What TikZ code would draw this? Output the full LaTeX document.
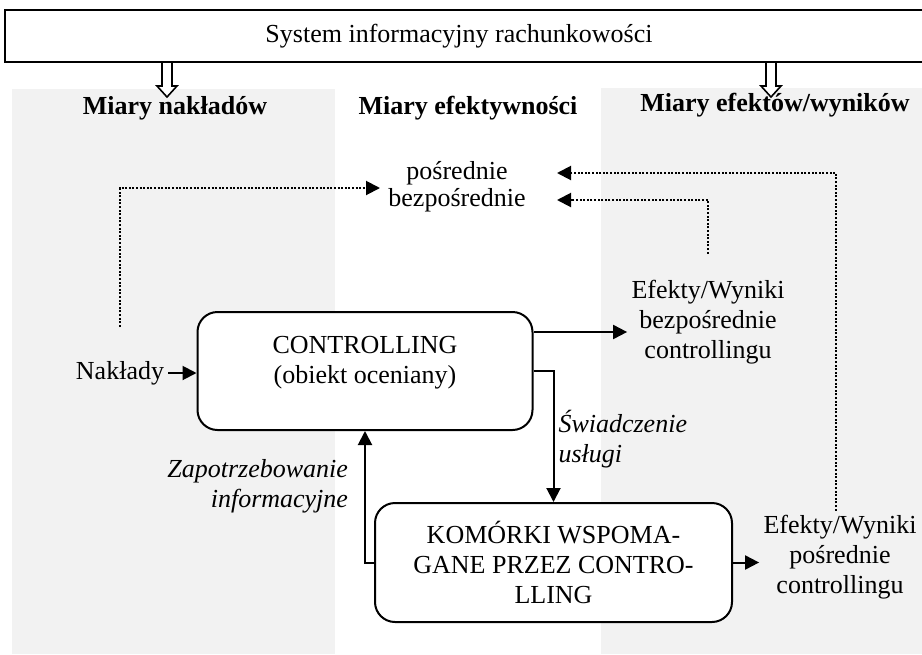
\documentclass[tikz,border=0pt]{standalone}
\usepackage{fontspec}
\setmainfont{Liberation Serif}
\usetikzlibrary{arrows.meta}
\definecolor{panel}{HTML}{F2F2F2}
\begin{document}
\begin{tikzpicture}[x=0.5pt,y=-0.5pt,>={Triangle[length=7pt,width=7pt]},
	font=\fontsize{13}{15}\selectfont,
	txt/.style={align=center,inner sep=2pt},
	head/.style={font=\fontsize{13}{15}\selectfont\bfseries},
	lbl/.style={font=\fontsize{13}{15}\selectfont\itshape,inner sep=2pt},
	rbox/.style={draw,fill=white,line width=1pt,rounded corners=10pt,align=center},
	flow/.style={->,line width=1pt},
	link/.style={->,line width=1pt,dash pattern=on 1pt off 0.8pt}]
	\useasboundingbox (0,0) rectangle (922,654);
	\fill[panel] (12,89) rectangle (335,654);
	\fill[panel] (601,88) rectangle (922,654);
	\foreach \x in {167,771}
		\draw[line width=0.8pt,fill=white] ({\x-5},62)--({\x-5},86)--({\x-10},86)--(\x,97)--({\x+10},86)--({\x+5},86)--({\x+5},62);
	\draw[line width=1pt] (5,10) rectangle (940,62);
	\node[txt] (sys) at (459,36) {System informacyjny rachunkowości};
	\node[head] (hin) at (175,108) {Miary nakładów};
	\node[head] (heff) at (468,108) {Miary efektywności};
	\node[head] (hout) at (775,105) {Miary efektów/wyników};
	\node[txt] (posr) at (457,173) {pośrednie};
	\node[txt] (bezp) at (457,200) {bezpośrednie};
	\node[rbox,minimum width=167.5pt,minimum height=59pt] (ctl) at (365,371) {CONTROLLING\\(obiekt oceniany)\\[-4pt]\mbox{}};
	\node[rbox,minimum width=178.5pt,minimum height=59.5pt] (kom) at (553.5,562.5) {KOMÓRKI WSPOMA-\\GANE PRZEZ CONTRO-\\LLING};
	\node[txt] (nak) at (120,373) {Nakłady};
	\node[txt] (efb) at (708,322) {Efekty/Wyniki\\bezpośrednie\\controllingu};
	\node[txt] (efp) at (840,557) {Efekty/Wyniki\\pośrednie\\controllingu};
	\coordinate (tipL) at (380,188);
	\coordinate (tipR) at (557,0);
	\coordinate (efbin) at ([yshift=-5pt]efb.west);
	% flows
	\draw[flow] (nak) -- (nak -| ctl.west);
	\draw[flow] (ctl.east |- efbin) -- (efbin);
	\draw[flow] (ctl.east) -| node[lbl,pos=0.76,right,align=left]{Świadczenie\\usługi} (kom.north);
	\draw[flow] (kom.west) -| node[lbl,pos=0.79,left=6pt,align=right]{Zapotrzebowanie\\informacyjne} (ctl.south);
	\draw[flow] (kom.east) -- (kom.east -| efp.west);
	% measures
	\draw[link] ([yshift=15pt]nak.north) |- (tipL);
	\draw[link] ([xshift=-2pt]efp.north) |- (posr -| tipR);
	\draw[link] ([yshift=11pt]efb.north) |- (bezp -| tipR);
\end{tikzpicture}
\end{document}
